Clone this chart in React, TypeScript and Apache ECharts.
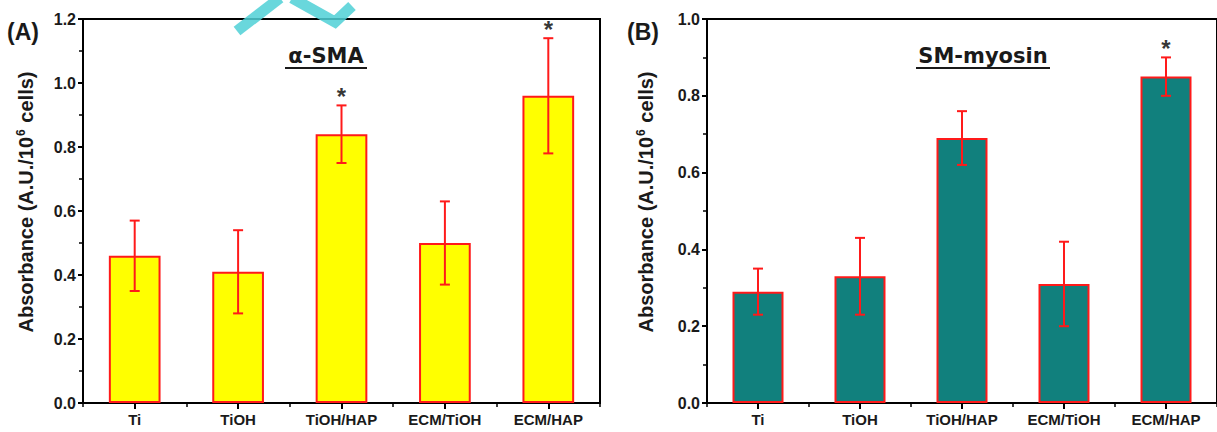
import React, { useEffect, useRef } from "react";
import * as echarts from "echarts";

const categories = ["Ti", "TiOH", "TiOH/HAP", "ECM/TiOH", "ECM/HAP"];

const smaValues = [0.46, 0.41, 0.84, 0.5, 0.96];
const smaLow = [0.35, 0.28, 0.75, 0.37, 0.78];
const smaHigh = [0.57, 0.54, 0.93, 0.63, 1.14];
const smaStars = ["TiOH/HAP", "ECM/HAP"];

const myoValues = [0.29, 0.33, 0.69, 0.31, 0.85];
const myoLow = [0.23, 0.23, 0.62, 0.2, 0.8];
const myoHigh = [0.35, 0.43, 0.76, 0.42, 0.9];
const myoStars = ["ECM/HAP"];

const FONT = "Liberation Sans";
const AXIS_NAME = "Absorbance (A.U./10{sup|6} cells)";

function errorSeries(xi: number, yi: number, low: number[], high: number[]) {
  return {
    type: "custom",
    xAxisIndex: xi,
    yAxisIndex: yi,
    z: 5,
    data: categories.map((c, i) => [i, low[i], high[i]]),
    renderItem: (params: any, api: any) => {
      const x = api.value(0);
      const lo = api.coord([x, api.value(1)]);
      const hi = api.coord([x, api.value(2)]);
      const cap = 5;
      const style = { stroke: "#ff1a1a", lineWidth: 2 };
      return {
        type: "group",
        children: [
          { type: "line", shape: { x1: lo[0], y1: lo[1], x2: hi[0], y2: hi[1] }, style },
          { type: "line", shape: { x1: hi[0] - cap, y1: hi[1], x2: hi[0] + cap, y2: hi[1] }, style },
          { type: "line", shape: { x1: lo[0] - cap, y1: lo[1], x2: lo[0] + cap, y2: lo[1] }, style },
        ],
      };
    },
  };
}

function starSeries(xi: number, yi: number, stars: string[], high: number[]) {
  return {
    type: "scatter",
    xAxisIndex: xi,
    yAxisIndex: yi,
    symbolSize: 1,
    itemStyle: { color: "rgba(0,0,0,0)" },
    data: stars.map((s) => [s, high[categories.indexOf(s)]]),
    label: {
      show: true,
      position: "top",
      distance: -4,
      formatter: "*",
      color: "#000",
      fontSize: 24,
      fontWeight: "bold",
      fontFamily: FONT,
    },
  };
}

function yAxisOf(grid: number, max: number) {
  return {
    type: "value",
    gridIndex: grid,
    min: 0,
    max,
    interval: 0.2,
    axisLine: { show: true, lineStyle: { color: "#000", width: 2 } },
    axisTick: { show: true, length: 5, lineStyle: { color: "#000", width: 2 } },
    minorTick: { show: true, splitNumber: 2, length: 4, lineStyle: { color: "#000", width: 1.5 } },
    splitLine: { show: false },
    axisLabel: {
      color: "#1a1a1a",
      fontSize: 16,
      fontWeight: "bold",
      fontFamily: FONT,
      margin: 7,
      formatter: (v: number) => v.toFixed(1),
    },
  };
}

function xAxesOf(grid: number) {
  return [
    {
      type: "category",
      gridIndex: grid,
      data: categories,
      boundaryGap: true,
      axisLine: { show: true, lineStyle: { color: "#000", width: 2 } },
      axisTick: { show: true, alignWithLabel: true, length: 6, lineStyle: { color: "#000", width: 2 } },
      axisLabel: {
        color: "#1a1a1a",
        fontSize: 15,
        fontWeight: "bold",
        fontFamily: FONT,
        margin: 9,
        interval: 0,
      },
      splitLine: { show: false },
    },
    {
      type: "category",
      gridIndex: grid,
      data: categories,
      boundaryGap: true,
      position: "bottom",
      axisLine: { show: false },
      axisTick: { show: true, alignWithLabel: false, length: 4, lineStyle: { color: "#000", width: 1.5 } },
      axisLabel: { show: false },
      splitLine: { show: false },
    },
  ];
}

function yName(x: number, y: number) {
  return {
    type: "text",
    x,
    y,
    rotation: Math.PI / 2,
    style: {
      text: AXIS_NAME,
      fontSize: 20,
      fontWeight: "bold",
      fontFamily: FONT,
      fill: "#1a1a1a",
      textAlign: "center",
      textVerticalAlign: "middle",
      rich: {
        sup: { fontSize: 12, fontWeight: "bold", fontFamily: FONT, fill: "#1a1a1a", padding: [0, 1, 10, 1] },
      },
    },
  };
}

export default function App() {
  const ref = useRef<HTMLDivElement>(null);

  useEffect(() => {
    if (!ref.current) return;
    const chart = echarts.init(ref.current, null, { renderer: "svg" });
    const titleStyle = {
      fontSize: 21,
      fontWeight: "bold",
      fill: "#1a1a1a",
      fontFamily: "DejaVu Sans",
    };
    const option: any = {
      animation: false,
      backgroundColor: "#ffffff",
      grid: [
        { left: 83, top: 19, width: 517, height: 384, show: true, borderColor: "#000", borderWidth: 2, backgroundColor: "transparent" },
        { left: 707, top: 19, width: 517, height: 384, show: true, borderColor: "#000", borderWidth: 2, backgroundColor: "transparent" },
      ],
      xAxis: [...xAxesOf(0), ...xAxesOf(1)],
      yAxis: [yAxisOf(0, 1.2), yAxisOf(1, 1.0)],
      series: [
        {
          type: "bar",
          xAxisIndex: 0,
          yAxisIndex: 0,
          data: smaValues,
          barWidth: "50%",
          itemStyle: { color: "#ffff00", borderColor: "#ff1a1a", borderWidth: 2 },
        },
        errorSeries(0, 0, smaLow, smaHigh),
        starSeries(0, 0, smaStars, smaHigh),
        {
          type: "bar",
          xAxisIndex: 2,
          yAxisIndex: 1,
          data: myoValues,
          barWidth: "50%",
          itemStyle: { color: "#11807d", borderColor: "#ff1a1a", borderWidth: 2 },
        },
        errorSeries(2, 1, myoLow, myoHigh),
        starSeries(2, 1, myoStars, myoHigh),
      ],
      graphic: [
        yName(26, 202),
        yName(646, 202),
        { type: "text", left: 7, top: 20, style: { text: "(A)", fontSize: 23, fontWeight: "bold", fill: "#1a1a1a", fontFamily: FONT } },
        { type: "text", left: 627, top: 20, style: { text: "(B)", fontSize: 23, fontWeight: "bold", fill: "#1a1a1a", fontFamily: FONT } },
        { type: "text", x: 326, y: 66, style: { ...titleStyle, text: "α-SMA", textAlign: "center", textVerticalAlign: "bottom" } },
        { type: "line", shape: { x1: 285, y1: 68, x2: 367, y2: 68 }, style: { stroke: "#1a1a1a", lineWidth: 2 } },
        { type: "text", x: 983, y: 66, style: { ...titleStyle, text: "SM-myosin", textAlign: "center", textVerticalAlign: "bottom" } },
        { type: "line", shape: { x1: 916, y1: 68, x2: 1050, y2: 68 }, style: { stroke: "#1a1a1a", lineWidth: 2 } },
        { type: "polyline", shape: { points: [[237, 31], [280, -2]] }, style: { stroke: "#4fd0d6", lineWidth: 11, opacity: 0.85 } },
        { type: "polyline", shape: { points: [[292, -2], [335, 22], [352, 6]] }, style: { stroke: "#4fd0d6", lineWidth: 11, opacity: 0.85 } },
      ],
    };
    chart.setOption(option);
    return () => chart.dispose();
  }, []);

  return <div ref={ref} style={{ position: "absolute", left: 0, top: 0, width: 1217, height: 432 }} />;
}
